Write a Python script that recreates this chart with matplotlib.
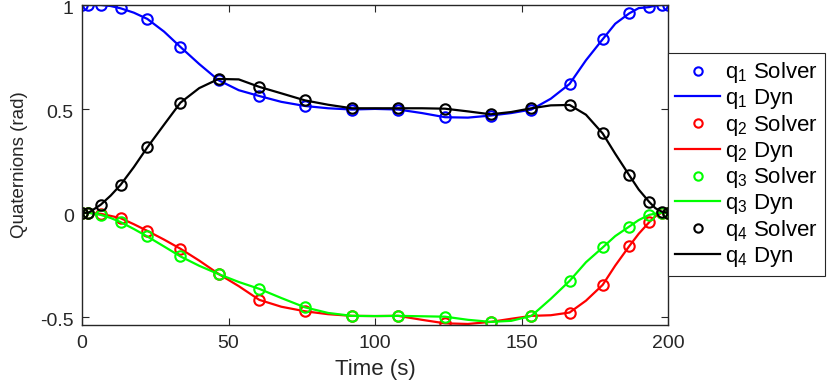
import numpy as np
import matplotlib
matplotlib.use("Agg")
import matplotlib.pyplot as plt
import matplotlib.transforms as mtransforms

plt.rcParams['font.family'] = ['Liberation Sans', 'DejaVu Sans']
plt.rcParams['mathtext.fontset'] = 'custom'
plt.rcParams['mathtext.rm'] = 'Liberation Sans'
plt.rcParams['mathtext.it'] = 'Liberation Sans'

# solver node times (s) and solver values
t = [0, 2.2, 6.4, 13.2, 22.3, 33.6, 46.6, 60.5, 76.1, 92.1,
     107.9, 123.9, 139.5, 153.4, 166.4, 177.7, 186.8, 193.6, 197.8, 200]

q1 = [1.0, 1.0, 1.0, 0.984, 0.933, 0.798, 0.638, 0.562, 0.514, 0.497,
      0.497, 0.460, 0.468, 0.497, 0.620, 0.835, 0.960, 0.990, 1.0, 1.0]
q2 = [0.0, 0.0, -0.005, -0.026, -0.087, -0.173, -0.294, -0.419, -0.474, -0.496,
      -0.496, -0.532, -0.525, -0.496, -0.480, -0.347, -0.160, -0.045, 0.0, 0.0]
q3 = [0.0, 0.0, -0.010, -0.045, -0.114, -0.210, -0.295, -0.366, -0.455, -0.496,
      -0.496, -0.500, -0.525, -0.496, -0.328, -0.167, -0.066, -0.010, 0.0, 0.0]
q4 = [0.0, 0.0, 0.039, 0.135, 0.315, 0.530, 0.644, 0.606, 0.541, 0.503,
      0.503, 0.501, 0.474, 0.503, 0.519, 0.382, 0.180, 0.052, 0.006, 0.0]

# dynamics (integrated) curves, read at a finer time grid
td = [0, 2.2, 6.4, 9.8, 13.2, 17.7, 22.3, 28, 33.6, 40, 46.6, 53.5, 60.5, 68,
      76.1, 84, 92.1, 100, 107.9, 116, 123.9, 131.7, 139.5, 146.5, 153.4, 160,
      166.4, 172, 177.7, 182, 186.8, 190, 193.6, 195.7, 197.8, 200]
q1d = [1.0, 1.0, 1.0, 0.995, 0.984, 0.963, 0.933, 0.872, 0.798, 0.716, 0.638,
       0.59, 0.562, 0.534, 0.514, 0.503, 0.497, 0.50, 0.497, 0.48, 0.460, 0.458,
       0.468, 0.48, 0.497, 0.549, 0.620, 0.734, 0.835, 0.91, 0.960, 0.985,
       0.990, 0.997, 1.0, 1.0]
q2d = [0.0, 0.0, -0.005, -0.015, -0.026, -0.055, -0.087, -0.129, -0.173, -0.23,
       -0.294, -0.353, -0.419, -0.452, -0.474, -0.488, -0.496, -0.497, -0.496,
       -0.515, -0.532, -0.535, -0.525, -0.51, -0.496, -0.493, -0.480, -0.423,
       -0.347, -0.254, -0.160, -0.101, -0.045, -0.017, 0.0, 0.0]
q3d = [0.0, 0.0, -0.010, -0.025, -0.045, -0.078, -0.114, -0.162, -0.210, -0.255,
       -0.295, -0.333, -0.366, -0.41, -0.455, -0.482, -0.496, -0.497, -0.496,
       -0.498, -0.500, -0.515, -0.525, -0.52, -0.496, -0.414, -0.328, -0.238,
       -0.167, -0.112, -0.066, -0.035, -0.010, -0.004, 0.0, 0.0]
q4d = [0.0, 0.0, 0.039, 0.083, 0.135, 0.22, 0.315, 0.424, 0.530, 0.60, 0.644,
       0.642, 0.606, 0.575, 0.541, 0.52, 0.503, 0.503, 0.503, 0.503, 0.501,
       0.488, 0.474, 0.485, 0.503, 0.517, 0.519, 0.472, 0.382, 0.284, 0.180,
       0.112, 0.052, 0.022, 0.006, 0.0]

solver = [q1, q2, q3, q4]
dyn = [q1d, q2d, q3d, q4d]
colors = ['#0000ff', '#ff0000', '#00ff00', '#000000']
names = ['1', '2', '3', '4']

fig = plt.figure(figsize=(8.3, 3.82), dpi=100)
ax = fig.add_axes([82/830, 1-325/382, (668-82)/830, (325-5)/382])

for qs, qd, c, n in zip(solver, dyn, colors, names):
    ax.plot(t, qs, 'o', mfc='none', mec=c, ms=7.5, mew=1.5,
            label=r'q$_{%s}$ Solver' % n)
    ax.plot(td, qd, '-', color=c, lw=1.6, label=r'q$_{%s}$ Dyn' % n)

ax.set_xlim(0, 200)
ax.set_ylim(-0.54, 1.0)
ax.set_xticks([0, 50, 100, 150, 200])
ax.set_yticks([-0.5, 0, 0.5, 1])
ax.set_yticklabels(['-0.5', '0', '0.5', '1'])
ax.tick_params(direction='in', top=True, right=True, length=5,
               labelsize=14, colors='#262626', width=0.8)
ax.tick_params(axis='x', pad=7)
ax.tick_params(axis='y', pad=6)
# nudge y tick labels down a little so the top "1" stays inside the figure
shift = mtransforms.ScaledTranslation(0, -2.5/100, fig.dpi_scale_trans)
for lab in ax.get_yticklabels():
    lab.set_transform(lab.get_transform() + shift)
for s in ax.spines.values():
    s.set_color('#262626')
    s.set_linewidth(1.0)
ax.set_xlabel('Time (s)', fontsize=16, color='#262626', labelpad=5)
ax.set_ylabel('Quaternions (rad)', fontsize=13.5, color='#262626', labelpad=9)

leg = ax.legend(loc='upper left', bbox_to_anchor=(668/830, 1-53/382),
                bbox_transform=fig.transFigure, fontsize=16, frameon=True,
                fancybox=False, framealpha=1, edgecolor='#262626',
                handlelength=2.0, handletextpad=0.22, labelspacing=0.08,
                borderpad=0.33, borderaxespad=0, markerscale=0.8)
leg.get_frame().set_linewidth(0.8)

fig.savefig('out.png', dpi=100)
